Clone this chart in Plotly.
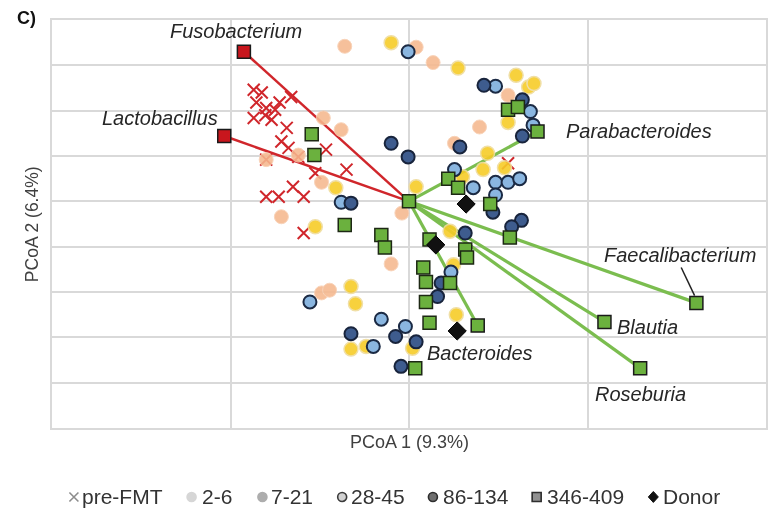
import plotly.graph_objects as go

FONT = "Arial, 'Liberation Sans', sans-serif"

# ---- sample coordinates (PCoA 1, PCoA 2), grouped by days after FMT ----
pre_fmt_x = [-0.174, -0.165, -0.171, -0.160, -0.174, -0.161, -0.150, -0.145, -0.132,
             -0.154, -0.137, -0.143, -0.135, -0.160, -0.124, -0.093, -0.105, -0.070,
             -0.160, -0.146, -0.130, -0.118, -0.118, 0.111]
pre_fmt_y = [0.123, 0.120, 0.109, 0.103, 0.092, 0.095, 0.101, 0.109, 0.115,
             0.090, 0.081, 0.066, 0.059, 0.046, 0.049, 0.057, 0.031, 0.035,
             0.005, 0.005, 0.016, 0.005, -0.035, 0.042]

d2_6_x = [-0.072, 0.027, 0.008, -0.096, -0.076, -0.160, -0.124, -0.098, -0.143,
          -0.008, 0.079, 0.111, 0.051, -0.020, -0.098, -0.089]
d2_6_y = [0.171, 0.153, 0.170, 0.092, 0.079, 0.046, 0.051, 0.021, -0.017,
          -0.013, 0.082, 0.117, 0.064, -0.069, -0.101, -0.098]

d7_21_x = [-0.020, 0.055, 0.120, 0.134, 0.140, 0.111, 0.088, 0.083, 0.107, 0.008,
           -0.082, -0.105, 0.046, 0.050, 0.053, -0.065, -0.060, -0.065, -0.048,
           0.004, 0.060]
d7_21_y = [0.175, 0.147, 0.139, 0.126, 0.130, 0.087, 0.053, 0.035, 0.037, 0.016,
           0.015, -0.028, -0.033, -0.070, -0.125, -0.094, -0.113, -0.163, -0.160,
           -0.162, 0.027]

d28_45_x = [-0.001, 0.097, 0.136, 0.139, 0.051, 0.072, 0.097, 0.111, 0.124, 0.097,
            -0.076, 0.047, -0.111, -0.031, -0.040, -0.004]
d28_45_y = [0.165, 0.127, 0.099, 0.084, 0.035, 0.015, 0.021, 0.021, 0.025, 0.007,
            -0.001, -0.078, -0.111, -0.130, -0.160, -0.138]

d86_134_x = [0.084, 0.127, 0.127, 0.057, -0.020, -0.001, -0.065, 0.094, 0.126, 0.115,
             0.063, 0.036, 0.032, -0.065, -0.015, 0.008, -0.009]
d86_134_y = [0.128, 0.112, 0.072, 0.060, 0.064, 0.049, -0.002, -0.012, -0.021, -0.028,
             -0.035, -0.090, -0.105, -0.146, -0.149, -0.155, -0.182]

d346_409_x = [0.000, 0.111, 0.122, -0.109, -0.106, -0.072, -0.031, -0.027, 0.044, 0.055,
              0.091, 0.113, 0.023, 0.063, 0.065, 0.016, 0.019, 0.046, 0.019, 0.023,
              0.007]
d346_409_y = [0.000, 0.101, 0.104, 0.074, 0.051, -0.026, -0.037, -0.051, 0.025, 0.015,
              -0.003, -0.040, -0.042, -0.053, -0.062, -0.073, -0.089, -0.090, -0.111,
              -0.134, -0.184]

donor_x = [0.064, 0.030, 0.054]
donor_y = [-0.003, -0.048, -0.143]

# ---- genus loading vectors ----
genera = ["Fusobacterium", "Lactobacillus", "Parabacteroides", "Faecalibacterium",
          "Blautia", "Roseburia", "Bacteroides"]
vec_x = [-0.185, -0.207, 0.144, 0.322, 0.219, 0.259, 0.077]
vec_y = [0.165, 0.072, 0.077, -0.112, -0.133, -0.184, -0.137]
vec_enriched_pre = [True, True, False, False, False, False, False]

# label anchor positions for each genus
label_x = [-0.194, -0.279, 0.258, 0.304, 0.231, 0.259, 0.079]
label_y = [0.188, 0.092, 0.078, -0.059, -0.139, -0.213, -0.167]
label_anchor = ["center", "center", "center", "center", "left", "center", "center"]

# ---- legend ----
legend_items = ["pre-FMT", "2-6", "7-21", "28-45", "86-134", "346-409", "Donor"]
legend_symbols = ["x", "circle", "circle", "circle", "circle", "square", "diamond"]
legend_fill = [None, "#d6d6d6", "#adadad", "#d2d2d2", "#6f6f6f", "#919191", "#111111"]
legend_edge = ["#8c8c8c", "#d6d6d6", "#adadad", "#3c3c3c", "#2e2e2e", "#2e2e2e", "#111111"]

RED = "#d0262b"
GREEN = "#7bbd4f"

fig = go.Figure()

# vectors from the origin
for gx, gy, pre in zip(vec_x, vec_y, vec_enriched_pre):
    fig.add_trace(go.Scatter(
        x=[0, gx], y=[0, gy], mode="lines",
        line=dict(color=RED if pre else GREEN, width=2.5 if pre else 3.2),
        showlegend=False, hoverinfo="skip"))

# samples
fig.add_trace(go.Scatter(
    x=pre_fmt_x, y=pre_fmt_y, mode="markers", name="pre-FMT",
    marker=dict(symbol="x-thin", size=12, line=dict(color=RED, width=2))))
fig.add_trace(go.Scatter(
    x=d2_6_x, y=d2_6_y, mode="markers", name="2-6", opacity=0.88,
    marker=dict(symbol="circle", size=14, color="#f5b88e",
                line=dict(color="#f7cdb0", width=1))))
fig.add_trace(go.Scatter(
    x=d7_21_x, y=d7_21_y, mode="markers", name="7-21", opacity=0.9,
    marker=dict(symbol="circle", size=14, color="#f7cc28",
                line=dict(color="#efdc9c", width=1.5))))
fig.add_trace(go.Scatter(
    x=d28_45_x, y=d28_45_y, mode="markers", name="28-45",
    marker=dict(symbol="circle", size=13, color="#8ab6e0",
                line=dict(color="#1b2a44", width=2))))
fig.add_trace(go.Scatter(
    x=d86_134_x, y=d86_134_y, mode="markers", name="86-134",
    marker=dict(symbol="circle", size=13, color="#3e5c8e",
                line=dict(color="#18243c", width=2))))
fig.add_trace(go.Scatter(
    x=d346_409_x, y=d346_409_y, mode="markers", name="346-409",
    marker=dict(symbol="square", size=13, color="#6bb13e",
                line=dict(color="#1d2814", width=1.5))))
fig.add_trace(go.Scatter(
    x=donor_x, y=donor_y, mode="markers", name="Donor",
    marker=dict(symbol="diamond", size=14, color="#111111",
                line=dict(color="#000000", width=1))))

# vector tips
fig.add_trace(go.Scatter(
    x=vec_x, y=vec_y, mode="markers", hoverinfo="text", text=genera,
    marker=dict(symbol="square", size=13,
                color=["#c8161d" if p else "#6bb13e" for p in vec_enriched_pre],
                line=dict(color="#1a1a1a", width=1.5))))

# ---- text ----
annotations = []
for name, lx, ly, anc in zip(genera, label_x, label_y, label_anchor):
    annotations.append(dict(x=lx, y=ly, xref="x", yref="y", text="<i>" + name + "</i>",
                            showarrow=False, xanchor=anc, yanchor="middle",
                            font=dict(family=FONT, size=20, color="#262626")))

annotations += [
    dict(x=0.5, y=-0.006, xref="paper", yref="paper", text="PCoA 1 (9.3%)",
         showarrow=False, xanchor="center", yanchor="top",
         font=dict(family=FONT, size=18, color="#404040")),
    dict(x=-0.011, y=0.5, xref="paper", yref="paper", text="PCoA 2 (6.4%)",
         showarrow=False, xanchor="right", yanchor="middle", textangle=-90,
         font=dict(family=FONT, size=17.5, color="#404040")),
    dict(x=-0.052, y=1.005, xref="paper", yref="paper", text="<b>C)</b>",
         showarrow=False, xanchor="left", yanchor="middle",
         font=dict(family=FONT, size=18, color="#111111")),
]

# legend row below the plot: symbol + label, laid out in plot-width fractions
LEG_Y = -0.169
sym_pos = [0.0307, 0.1955, 0.2947, 0.4064, 0.5335, 0.6788, 0.8422]
txt_pos = [0.0391, 0.2067, 0.3045, 0.4162, 0.5447, 0.6899, 0.8534]
shapes = [dict(type="line", xref="x", yref="y", x0=0.305, y0=-0.073, x1=0.320, y1=-0.104,
               line=dict(color="#222222", width=1.5))]
for name, sym, fill, edge, sx, tx in zip(legend_items, legend_symbols, legend_fill,
                                         legend_edge, sym_pos, txt_pos):
    base = dict(xref="paper", yref="paper", xsizemode="pixel", ysizemode="pixel",
                xanchor=sx, yanchor=LEG_Y)
    if sym == "x":
        shapes.append(dict(base, type="path", path="M-4.5,-4.5L4.5,4.5M-4.5,4.5L4.5,-4.5",
                           line=dict(color=edge, width=1.6)))
    elif sym == "circle":
        shapes.append(dict(base, type="circle", x0=-4.5, x1=4.5, y0=-4.5, y1=4.5,
                           fillcolor=fill, line=dict(color=edge, width=1.6)))
    elif sym == "square":
        shapes.append(dict(base, type="rect", x0=-4.5, x1=4.5, y0=-4.5, y1=4.5,
                           fillcolor=fill, line=dict(color=edge, width=1.6)))
    else:
        shapes.append(dict(base, type="path", path="M0,-5.5L5,0L0,5.5L-5,0Z",
                           fillcolor=fill, line=dict(color=edge, width=1)))
    annotations.append(dict(x=tx, y=LEG_Y, xref="paper", yref="paper", text=name,
                            showarrow=False, xanchor="left", yanchor="middle",
                            font=dict(family=FONT, size=21, color="#333333")))

fig.update_layout(
    width=769, height=515,
    margin=dict(l=52, r=1, t=20, b=87),
    paper_bgcolor="white", plot_bgcolor="white",
    font=dict(family=FONT, color="#333333"),
    showlegend=False,
    annotations=annotations,
    shapes=shapes,
)
fig.update_xaxes(range=[-0.4, 0.4], dtick=0.2, tick0=0, showticklabels=False, ticks="",
                 showgrid=True, gridcolor="#d9d9d9", gridwidth=1.5, zeroline=False,
                 showline=True, linecolor="#d9d9d9", linewidth=1.5, mirror=True)
fig.update_yaxes(range=[-0.25, 0.2], dtick=0.05, tick0=0, showticklabels=False, ticks="",
                 showgrid=True, gridcolor="#d9d9d9", gridwidth=1.5, zeroline=False,
                 showline=True, linecolor="#d9d9d9", linewidth=1.5, mirror=True)

fig.write_html("out.html")
